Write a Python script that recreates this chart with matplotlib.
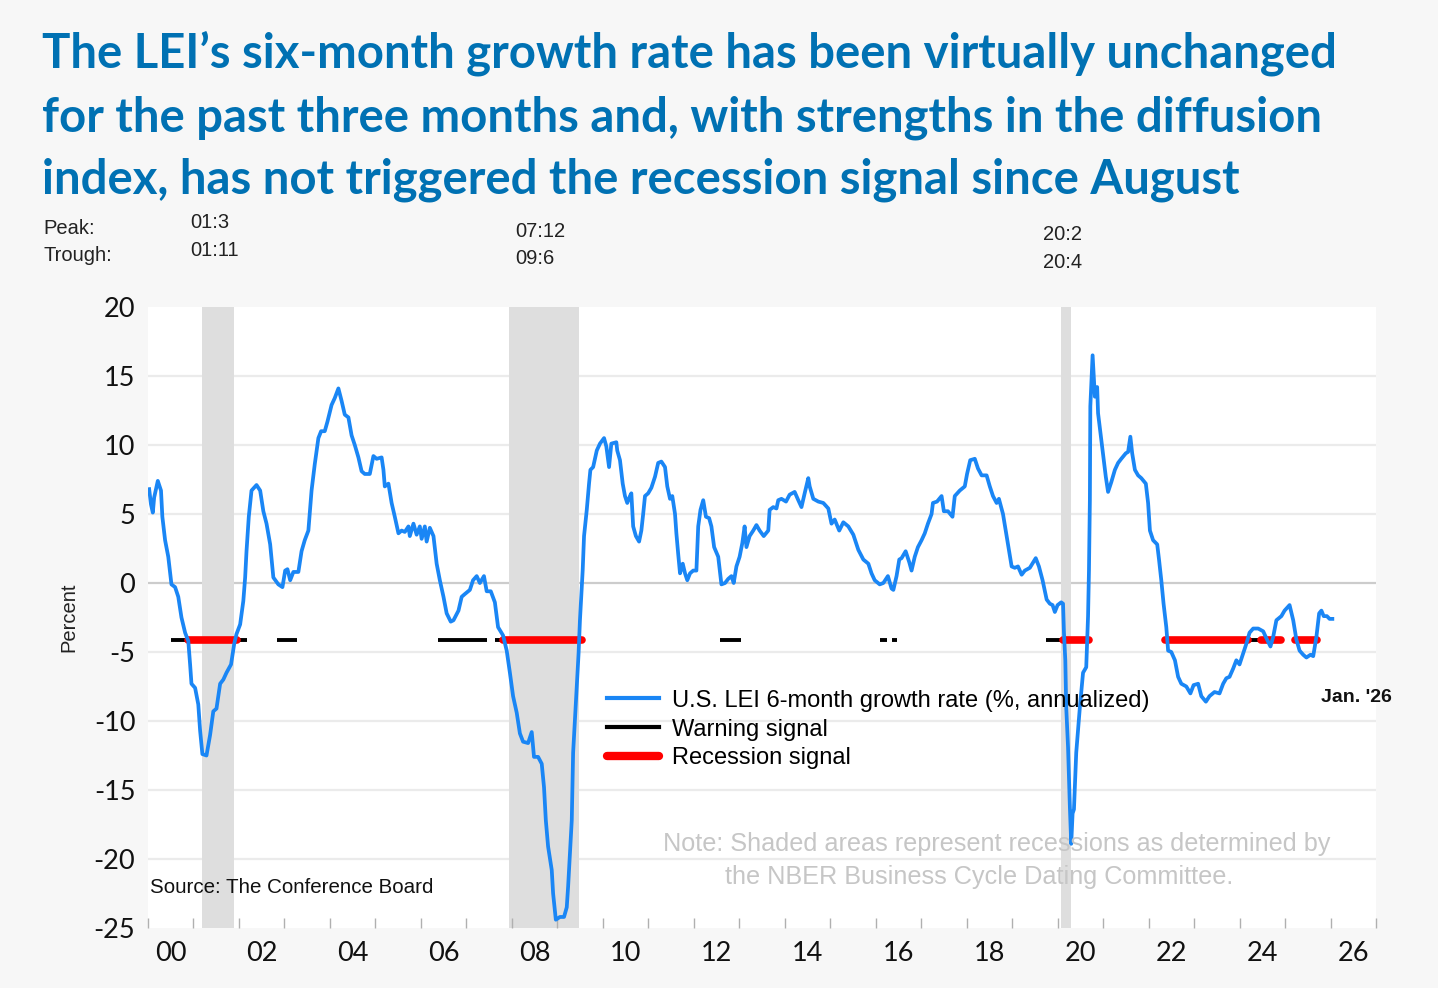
import numpy as np
from matplotlib import pyplot as plt
from matplotlib.lines import Line2D

plt.rcParams['axes.unicode_minus'] = False

# U.S. LEI 6-month growth rate (%, annualized)
lei_year = [
    2000.03, 2000.07, 2000.11, 2000.14, 2000.22, 2000.29, 2000.32, 2000.38, 2000.45, 2000.52,
    2000.60, 2000.67, 2000.74, 2000.82, 2000.89, 2000.93, 2000.96, 2001.04, 2001.11, 2001.15,
    2001.20, 2001.29, 2001.37, 2001.44, 2001.51, 2001.59, 2001.66, 2001.73, 2001.83, 2001.90,
    2001.95, 2002.03, 2002.10, 2002.14, 2002.17, 2002.22, 2002.28, 2002.39, 2002.47, 2002.54,
    2002.61, 2002.69, 2002.76, 2002.87, 2002.96, 2003.02, 2003.07, 2003.13, 2003.20, 2003.31,
    2003.38, 2003.45, 2003.53, 2003.60, 2003.67, 2003.75, 2003.81, 2003.89, 2003.95, 2004.04,
    2004.11, 2004.19, 2004.26, 2004.33, 2004.41, 2004.48, 2004.55, 2004.63, 2004.70, 2004.77,
    2004.88, 2004.96, 2005.03, 2005.14, 2005.18, 2005.21, 2005.29, 2005.36, 2005.43, 2005.51,
    2005.58, 2005.65, 2005.73, 2005.76, 2005.84, 2005.91, 2005.98, 2006.02, 2006.09, 2006.13,
    2006.20, 2006.28, 2006.35, 2006.42, 2006.50, 2006.57, 2006.66, 2006.72, 2006.83, 2006.90,
    2006.97, 2007.08, 2007.15, 2007.23, 2007.30, 2007.39, 2007.45, 2007.54, 2007.63, 2007.70,
    2007.81, 2007.89, 2007.96, 2008.03, 2008.11, 2008.18, 2008.25, 2008.36, 2008.44, 2008.49,
    2008.58, 2008.66, 2008.71, 2008.75, 2008.80, 2008.88, 2008.91, 2008.97, 2009.06, 2009.15,
    2009.21, 2009.24, 2009.28, 2009.32, 2009.35, 2009.39, 2009.43, 2009.47, 2009.50, 2009.56,
    2009.59, 2009.65, 2009.70, 2009.73, 2009.79, 2009.87, 2009.94, 2010.03, 2010.08, 2010.14,
    2010.19, 2010.30, 2010.32, 2010.38, 2010.44, 2010.49, 2010.54, 2010.60, 2010.63, 2010.67,
    2010.73, 2010.80, 2010.85, 2010.89, 2010.93, 2011.00, 2011.07, 2011.15, 2011.22, 2011.29,
    2011.37, 2011.42, 2011.48, 2011.53, 2011.59, 2011.62, 2011.66, 2011.70, 2011.76, 2011.81,
    2011.86, 2011.92, 2011.99, 2012.06, 2012.10, 2012.15, 2012.21, 2012.27, 2012.34, 2012.39,
    2012.45, 2012.54, 2012.61, 2012.69, 2012.76, 2012.83, 2012.88, 2012.94, 2013.01, 2013.07,
    2013.12, 2013.16, 2013.23, 2013.31, 2013.38, 2013.45, 2013.54, 2013.64, 2013.67, 2013.75,
    2013.82, 2013.86, 2013.93, 2014.03, 2014.11, 2014.22, 2014.30, 2014.37, 2014.44, 2014.52,
    2014.55, 2014.63, 2014.74, 2014.85, 2014.96, 2015.03, 2015.10, 2015.20, 2015.29, 2015.40,
    2015.51, 2015.62, 2015.73, 2015.84, 2015.91, 2015.98, 2016.09, 2016.17, 2016.27, 2016.35,
    2016.39, 2016.46, 2016.52, 2016.57, 2016.66, 2016.74, 2016.79, 2016.86, 2016.93, 2017.01,
    2017.08, 2017.15, 2017.23, 2017.26, 2017.35, 2017.45, 2017.50, 2017.59, 2017.69, 2017.74,
    2017.85, 2017.96, 2018.01, 2018.08, 2018.18, 2018.25, 2018.33, 2018.44, 2018.51, 2018.58,
    2018.66, 2018.71, 2018.80, 2018.86, 2018.93, 2018.99, 2019.06, 2019.13, 2019.21, 2019.28,
    2019.39, 2019.52, 2019.59, 2019.67, 2019.76, 2019.83, 2019.89, 2019.94, 2020.00, 2020.08,
    2020.12, 2020.14, 2020.17, 2020.19, 2020.23, 2020.27, 2020.30, 2020.33, 2020.36, 2020.41,
    2020.49, 2020.56, 2020.63, 2020.67, 2020.69, 2020.71, 2020.72, 2020.77, 2020.82, 2020.87,
    2020.89, 2020.96, 2021.01, 2021.06, 2021.11, 2021.18, 2021.26, 2021.33, 2021.40, 2021.50,
    2021.55, 2021.60, 2021.64, 2021.70, 2021.77, 2021.84, 2021.94, 2021.99, 2022.03, 2022.10,
    2022.19, 2022.23, 2022.28, 2022.33, 2022.39, 2022.43, 2022.50, 2022.58, 2022.65, 2022.72,
    2022.83, 2022.92, 2022.99, 2023.09, 2023.16, 2023.26, 2023.34, 2023.45, 2023.56, 2023.64,
    2023.71, 2023.78, 2023.86, 2023.93, 2024.00, 2024.08, 2024.15, 2024.22, 2024.30, 2024.41,
    2024.52, 2024.59, 2024.68, 2024.74, 2024.81, 2024.92, 2024.99, 2025.10, 2025.18, 2025.25,
    2025.32, 2025.40, 2025.47, 2025.56, 2025.62, 2025.69, 2025.75, 2025.80, 2025.85, 2025.92,
    2025.98, 2026.04,
]
lei_value = [
    6.8, 5.7, 5.1, 6.2, 7.4, 6.7, 4.8, 3.1, 1.9, -0.1,
    -0.3, -1.0, -2.5, -3.6, -4.2, -5.9, -7.3, -7.6, -8.8, -10.7,
    -12.4, -12.5, -11.0, -9.3, -9.1, -7.3, -7.0, -6.5, -5.9, -4.4,
    -3.7, -3.0, -1.3, 0.4, 2.3, 4.8, 6.7, 7.1, 6.7, 5.2,
    4.3, 2.8, 0.4, -0.1, -0.3, 0.9, 1.0, 0.2, 0.8, 0.8,
    2.3, 3.1, 3.8, 6.7, 8.6, 10.5, 11.0, 11.0, 11.7, 12.9,
    13.4, 14.1, 13.2, 12.2, 12.0, 10.7, 10.0, 9.1, 8.1, 7.9,
    7.9, 9.2, 9.0, 9.1, 8.2, 7.0, 7.2, 5.8, 4.8, 3.6,
    3.8, 3.7, 4.1, 3.4, 4.3, 3.5, 4.1, 3.2, 4.1, 3.0,
    4.0, 3.4, 1.4, 0.2, -1.0, -2.2, -2.8, -2.7, -2.0, -1.0,
    -0.8, -0.5, 0.2, 0.5, 0.0, 0.5, -0.6, -0.6, -1.4, -3.2,
    -3.8, -4.9, -6.5, -8.2, -9.4, -10.9, -11.5, -11.6, -10.8, -12.6,
    -12.6, -13.1, -14.8, -17.2, -19.1, -20.8, -22.5, -24.4, -24.2, -24.2,
    -23.5, -22.0, -19.6, -17.2, -12.3, -9.9, -7.5, -5.1, -2.7, 0.9,
    3.4, 5.3, 7.2, 8.2, 8.4, 9.6, 10.1, 10.5, 9.9, 8.4,
    10.1, 10.2, 9.6, 8.9, 7.2, 6.3, 5.8, 6.3, 6.5, 4.1,
    3.4, 3.0, 3.8, 5.0, 6.3, 6.5, 6.9, 7.7, 8.7, 8.8,
    8.4, 7.0, 6.1, 6.3, 5.0, 3.6, 2.1, 0.7, 1.4, 0.7,
    0.2, 0.7, 0.9, 0.9, 4.1, 5.3, 6.0, 4.8, 4.7, 4.1,
    2.6, 1.9, -0.1, 0.0, 0.3, 0.5, 0.0, 1.2, 1.9, 2.9,
    4.1, 2.6, 3.4, 3.8, 4.2, 3.8, 3.4, 3.8, 5.3, 5.5,
    5.4, 6.0, 6.1, 5.9, 6.4, 6.6, 6.0, 5.5, 6.5, 7.6,
    7.0, 6.1, 5.9, 5.8, 5.4, 4.3, 4.6, 3.8, 4.4, 4.1,
    3.5, 2.4, 1.7, 1.4, 0.7, 0.2, -0.1, 0.0, 0.5, -0.4,
    -0.5, 0.5, 1.7, 1.8, 2.3, 1.5, 0.9, 1.9, 2.6, 3.1,
    3.6, 4.3, 5.0, 5.8, 5.9, 6.3, 5.2, 5.2, 4.8, 6.3,
    6.7, 7.0, 7.9, 8.9, 9.0, 8.3, 7.8, 7.8, 7.0, 6.3,
    5.8, 6.1, 5.0, 3.8, 2.4, 1.2, 1.1, 1.2, 0.6, 0.9,
    1.1, 1.8, 1.2, 0.2, -1.2, -1.5, -1.6, -2.1, -1.6, -1.4,
    -1.5, -3.6, -5.6, -9.0, -11.9, -16.2, -18.9, -16.7, -16.4, -12.3,
    -9.0, -6.5, -6.1, -2.4, 0.9, 6.0, 12.8, 16.5, 13.5, 14.2,
    12.3, 10.4, 9.1, 7.7, 6.6, 7.3, 8.2, 8.7, 9.0, 9.4,
    9.5, 10.6, 9.4, 8.2, 7.8, 7.6, 7.2, 5.8, 3.8, 3.1,
    2.8, 1.7, 0.2, -1.5, -3.2, -4.9, -5.0, -5.6, -6.8, -7.3,
    -7.5, -8.0, -7.4, -7.3, -8.2, -8.6, -8.2, -7.9, -8.0, -7.3,
    -6.9, -6.8, -6.2, -5.6, -5.9, -5.1, -4.4, -3.6, -3.3, -3.3,
    -3.5, -4.0, -4.6, -3.9, -2.7, -2.4, -2.0, -1.6, -2.7, -4.1,
    -4.9, -5.2, -5.4, -5.2, -5.3, -3.9, -2.2, -2.0, -2.4, -2.4,
    -2.6, -2.6,
]

# NBER recessions (shaded)
rec_start = [2001.19, 2007.93, 2020.07]
rec_end = [2001.89, 2009.47, 2020.29]

# signal periods
signal_level = -4.15
warn_start = [2000.52, 2001.97, 2002.85, 2006.39, 2007.63, 2012.57, 2016.09, 2016.35, 2019.74, 2024.19]
warn_end = [2000.89, 2002.17, 2003.29, 2007.46, 2007.81, 2013.03, 2016.24, 2016.46, 2020.12, 2024.48]
rsig_start = [2000.89, 2007.81, 2020.12, 2022.36, 2024.48, 2025.21]
rsig_end = [2001.97, 2009.54, 2020.69, 2024.19, 2024.92, 2025.70]

peak_labels = ['01:3', '07:12', '20:2']
trough_labels = ['01:11', '09:6', '20:4']

year_ticks = list(range(2000, 2028))
year_labels = ['00', '02', '04', '06', '08', '10', '12', '14', '16', '18', '20', '22', '24', '26']

W, H = 1438, 988
BLUE = '#1a86f5'
TITLE = '#0071b3'


def px(x, y):
    return x / W, 1 - y / H


fig = plt.figure(figsize=(W / 100, H / 100), dpi=100, facecolor='#f7f7f7')
ax = fig.add_axes([147.8 / W, 1 - 928 / H, (1376 - 147.8) / W, (928 - 307) / H])
ax.set_facecolor('white')

for s, e in zip(rec_start, rec_end):
    ax.axvspan(s, e, color='#dedede', lw=0, zorder=1)

for v in range(-25, 21, 5):
    if v in (-25, 20):
        continue
    ax.axhline(v, color='#cccccc' if v == 0 else '#ebebeb', lw=1.6, zorder=0.5)

for s, e in zip(warn_start, warn_end):
    ax.plot([s, e], [signal_level, signal_level], color='black', lw=2.8, solid_capstyle='butt', zorder=3)
for s, e in zip(rsig_start, rsig_end):
    ax.plot([s, e], [signal_level, signal_level], color='#ff0000', lw=5.5, solid_capstyle='round', zorder=4)

ax.plot(lei_year, lei_value, color=BLUE, lw=2.7, zorder=5)

ax.set_xlim(2000, 2027)
ax.set_ylim(-25, 20)
ax.set_yticks(range(-25, 21, 5))
ax.set_xticks(year_ticks)
ax.set_xticklabels([])
ax.set_xticks([y + 0.5 for y in range(2000, 2027, 2)], minor=True)
ax.set_xticklabels(year_labels, minor=True)
ax.tick_params(axis='x', which='major', direction='in', length=7, width=1, color='#b0b0b0')
ax.tick_params(axis='x', which='minor', length=0, pad=9, labelsize=19.5)
ax.tick_params(axis='y', length=0, pad=9, labelsize=19.5)
for lab in ax.get_xticklabels(minor=True) + ax.get_yticklabels():
    lab.set_fontfamily('Lato')
    lab.set_color('#111111')
for sp in ax.spines.values():
    sp.set_visible(False)

ax.set_ylabel('Percent', fontsize=14.5, family='Liberation Sans', labelpad=11, color='#222222')

handles = [
    Line2D([], [], color=BLUE, lw=3),
    Line2D([], [], color='black', lw=3),
    Line2D([], [], color='#ff0000', lw=6, solid_capstyle='round'),
]
ax.legend(handles, ['U.S. LEI 6-month growth rate (%, annualized)', 'Warning signal', 'Recession signal'],
          loc='upper left', bbox_to_anchor=(0.366, 0.399), frameon=False,
          prop={'family': 'Liberation Sans', 'size': 17}, handlelength=2.2,
          handletextpad=0.55, labelspacing=0.29, borderaxespad=0)

ax.text(0.002, 0.066, 'Source: The Conference Board', transform=ax.transAxes, fontsize=14.8,
        family='Liberation Sans', va='center', color='#111111')
ax.text(0.691, 0.135, 'Note: Shaded areas represent recessions as determined by', transform=ax.transAxes,
        fontsize=18.2, family='Liberation Sans', ha='center', va='center', color='#c6c6c6', zorder=6)
ax.text(0.677, 0.082, 'the NBER Business Cycle Dating Committee.', transform=ax.transAxes,
        fontsize=18.2, family='Liberation Sans', ha='center', va='center', color='#c6c6c6', zorder=6)
fig.text(*px(1356, 697), "Jan. '26", fontsize=14, weight='bold', family='Liberation Sans',
         ha='center', va='center', color='#111111')

# title
title_lines = [
    "The LEI\u2019s six-month growth rate has been virtually unchanged",
    "for the past three months and, with strengths in the diffusion",
    "index, has not triggered the recession signal since August",
]
for line, yb in zip(title_lines, [68, 131, 193]):
    fig.text(*px(42, yb), line, fontsize=34, weight='bold', family='Lato', color=TITLE, va='baseline')

# peak / trough dates
lab_kw = dict(fontsize=14.5, family='Liberation Sans', color='#222222', va='center')
fig.text(*px(43, 228), 'Peak:', **lab_kw)
fig.text(*px(43, 255), 'Trough:', **lab_kw)
for (x, y), p, t in zip([(190, 223), (515, 231), (1043, 235)], peak_labels, trough_labels):
    fig.text(*px(x, y), p, **lab_kw)
    fig.text(*px(x, y + 27), t, **lab_kw)

fig.savefig('out.png', dpi=100, facecolor=fig.get_facecolor())
